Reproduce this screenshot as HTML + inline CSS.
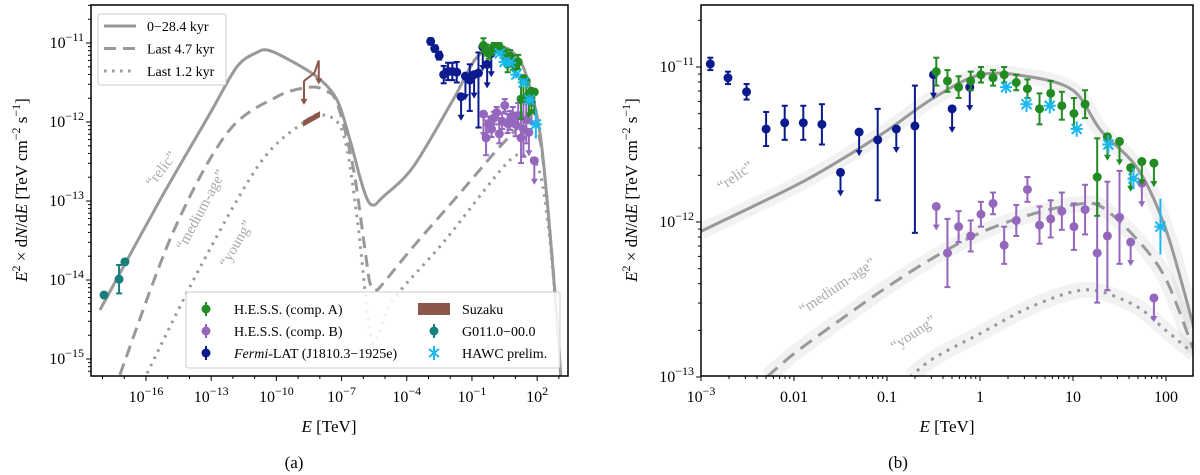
<!DOCTYPE html>
<html><head><meta charset="utf-8"><style>
body{margin:0;background:#fff}
svg{display:block;font-family:"Liberation Serif",serif}
</style></head><body>
<svg id="c" width="1200" height="475" viewBox="0 0 1200 475">
<defs>
<clipPath id="clipL"><rect x="91" y="5" width="477" height="371"/></clipPath>
<clipPath id="clipR"><rect x="701" y="5" width="492" height="371"/></clipPath>
</defs>
<g id="L"></g>
<g id="R"></g>
</svg>
<script>
// ===== data (log10 E [TeV], log10 flux) =====
const relicA_E=[-18.12,-15.36,-13.05,-11.81,-10.9,-10.39,-9.5,-8.13,-7.21,-6.61,-6.1,-5.78,-5.5,-5.1,-3.71,-1.87,-0.77,0.29,1.0,1.53,2.13,2.59,2.96,3.1];
const relicA_F=[-14.38,-12.99,-11.89,-11.3,-11.12,-11.09,-11.2,-11.43,-11.72,-12.23,-12.75,-13.0,-13.05,-12.95,-12.57,-11.72,-11.18,-11.05,-11.15,-11.43,-12.14,-13.4,-14.67,-15.3];
const medA_E=[-17.2,-14.76,-12.27,-9.97,-8.45,-7.8,-7.21,-6.47,-5.92,-5.69,-5.4,-5.23,-3.71,-1.55,0.43,1.53,2.13,2.59,2.96];
const medA_F=[-15.2,-13.4,-12.14,-11.68,-11.56,-11.6,-11.76,-12.57,-13.62,-14.04,-14.1,-14.09,-13.58,-12.9,-12.27,-12.01,-12.23,-13.4,-14.67];
const youngA_E=[-15.95,-13.51,-10.75,-8.77,-7.85,-6.93,-6.29,-5.69,-5.3,-4.63,-2.33,0.61,1.53,2.13,2.59,2.96];
const youngA_F=[-15.18,-13.84,-12.52,-12.01,-11.91,-12.14,-13.2,-14.67,-14.7,-14.25,-13.53,-12.52,-12.44,-12.65,-13.5,-14.7];
const relicB_E=[-3,-2,-1.5,-1,-0.5,0,0.5,1,1.3,1.7,2,2.3];
const relicB_F=[-12.06,-11.77,-11.6,-11.41,-11.2,-11.05,-11.06,-11.15,-11.41,-11.66,-12.05,-12.68];
const medB_E=[-2.29,-2,-1.5,-1,-0.5,0,0.5,1,1.3,1.7,2,2.3];
const medB_F=[-13.0,-12.85,-12.63,-12.42,-12.23,-12.07,-11.96,-11.89,-11.9,-12.12,-12.37,-12.83];
const youngB_E=[-0.75,-0.5,0,0.5,1,1.3,1.7,2,2.3];
const youngB_F=[-13.0,-12.88,-12.72,-12.56,-12.45,-12.45,-12.55,-12.70,-12.85];

const fermiE=[-2.90,-2.71,-2.51,-2.30,-2.10,-1.90,-1.70,-1.50,-1.30,-1.10,-0.90,-0.70,-0.50,-0.30,-0.11];
const fermiF=[-10.98,-11.07,-11.16,-11.40,-11.36,-11.36,-11.37,-11.68,-11.42,-11.47,-11.40,-11.38,-11.05,-11.27,-11.13];
const fermiLo=[0.04,0.04,0.05,0.11,0.11,0.11,0.13,0,0,0.39,0,0.69,0,0,0];
const fermiHi=[0.04,0.04,0.05,0.11,0.11,0.11,0.13,0,0,0.20,0,0.26,0,0,0];
const fermiUL=[0,0,0,0,0,0,0,1,1,0,1,0,1,1,1];
const hessAE=[-0.47,-0.35,-0.23,-0.10,0.01,0.14,0.26,0.39,0.51,0.64,0.76,0.88,1.01,1.13,1.26,1.37,1.50,1.62,1.74,1.87];
const hessAF=[-11.03,-11.09,-11.13,-11.09,-11.05,-11.07,-11.05,-11.10,-11.14,-11.27,-11.17,-11.25,-11.30,-11.24,-11.71,-11.45,-11.48,-11.65,-11.61,-11.62];
const hessAErr=[0.09,0.07,0.07,0.06,0.05,0.05,0.05,0.05,0.06,0.1,0.08,0.09,0.1,0.09,0.25,0,0,0,0,0];
const hessAUL=[0,0,0,0,0,0,0,0,0,0,0,0,0,0,0,1,1,1,1,1];
const hessBE=[-0.47,-0.35,-0.23,-0.10,0.01,0.14,0.26,0.39,0.51,0.64,0.76,0.88,1.01,1.13,1.26,1.37,1.50,1.62,1.74,1.87];
const hessBF=[-11.90,-12.20,-12.03,-12.09,-11.95,-11.88,-12.15,-11.99,-11.79,-12.02,-11.98,-11.93,-12.03,-11.92,-12.20,-12.09,-11.97,-12.13,-11.75,-12.49];
const hessBErr=[0,0.22,0.1,0.1,0.08,0.07,0.12,0.1,0.08,0.12,0.12,0.12,0.15,0.16,0.32,0.35,0.3,0,0,0];
const hessBUL=[1,0,0,0,0,0,0,0,0,0,0,0,0,0,0,0,0,1,1,1];
const hawcE=[0.28,0.50,0.75,1.04,1.38,1.65,1.94];
const hawcF=[-11.13,-11.24,-11.25,-11.40,-11.50,-11.72,-12.03];
const hawcErr=[0.04,0.05,0.05,0.05,0.06,0.07,0.18];
const g011E=[-17.93,-17.24,-16.97];
const g011F=[-14.19,-13.99,-13.77];
const g011Err=[0,0.18,0];
const suzakuE=[-8.77,-7.99];
const suzakuF=[-12.02,-11.90];
const suzakuUlE=[-8.73,-8.25,-8.05];
const suzakuUlF=[-11.48,-11.38,-11.22];

const NS="http://www.w3.org/2000/svg";
function mk(p,t,a,txt){const e=document.createElementNS(NS,t);for(const k in a)e.setAttribute(k,a[k]);if(txt!==undefined)e.textContent=txt;p.appendChild(e);return e;}

const L=document.getElementById('L'),R=document.getElementById('R');
const axL={x:e=>146+(e+16)*21.73,y:f=>43+(-11-f)*79,x0:91,x1:568,y0:5,y1:376};
const axR={x:e=>701+(e+3)*93,y:f=>67+(-11-f)*155,x0:701,x1:1193,y0:5,y1:376};

function path(ax,E,F){return E.map((e,i)=>(i?'L':'M')+ax.x(e).toFixed(1)+','+ax.y(F[i]).toFixed(1)).join(' ');}
function spath(ax,E,F){
  const P=E.map((e,i)=>[ax.x(e),ax.y(F[i])]);
  let d='M'+P[0][0].toFixed(1)+','+P[0][1].toFixed(1);
  for(let i=0;i<P.length-1;i++){
    const p0=P[Math.max(0,i-1)],p1=P[i],p2=P[i+1],p3=P[Math.min(P.length-1,i+2)];
    const t=0.16;
    const c1=[p1[0]+(p2[0]-p0[0])*t,p1[1]+(p2[1]-p0[1])*t];
    const c2=[p2[0]-(p3[0]-p1[0])*t,p2[1]-(p3[1]-p1[1])*t];
    d+=`C${c1[0].toFixed(1)},${c1[1].toFixed(1)} ${c2[0].toFixed(1)},${c2[1].toFixed(1)} ${p2[0].toFixed(1)},${p2[1].toFixed(1)}`;
  }
  return d;
}
function curve(g,ax,E,F,dash,name,band){
  if(band){const b=mk(g,'path',{d:spath(ax,E,F),fill:'none',stroke:'#999','stroke-width':16,'stroke-opacity':0.13,'stroke-linejoin':'round'});
  
  }
  const p=mk(g,'path',{d:spath(ax,E,F),fill:'none',stroke:'#999','stroke-width':3,'stroke-dasharray':dash,'stroke-linejoin':'round'});
  
  
}
function points(g,ax,E,F,lo,hi,UL,col,name,nodot){
  E.forEach((e,i)=>{
    const x=ax.x(e),y=ax.y(F[i]);
    const gg=mk(g,'g',{});
    
    
    if(UL&&UL[i]){
      mk(gg,'line',{x1:x,y1:y,x2:x,y2:y+22,stroke:col,'stroke-width':2});
      mk(gg,'path',{d:`M${x-3.5},${y+18}L${x},${y+24}L${x+3.5},${y+18}Z`,fill:col});
    }else if(lo[i]>0||hi[i]>0){
      const ya=ax.y(F[i]-lo[i]),yb=ax.y(F[i]+hi[i]);
      mk(gg,'line',{x1:x,y1:ya,x2:x,y2:yb,stroke:col,'stroke-width':2});
      mk(gg,'line',{x1:x-3,y1:ya,x2:x+3,y2:ya,stroke:col,'stroke-width':2});
      mk(gg,'line',{x1:x-3,y1:yb,x2:x+3,y2:yb,stroke:col,'stroke-width':2});
    }
    if(!nodot)mk(gg,'circle',{cx:x,cy:y,r:4.5,fill:col});
  });
}
function crosses(g,ax,E,F,err,col,name){
  E.forEach((e,i)=>{
    const x=ax.x(e),y=ax.y(F[i]);
    const gg=mk(g,'g',{stroke:col,'stroke-width':2});
    
    
    mk(gg,'line',{x1:x,y1:ax.y(F[i]-err[i]),x2:x,y2:ax.y(F[i]+err[i])});
    mk(gg,'line',{x1:x-5,y1:y-5,x2:x+5,y2:y+5});
    mk(gg,'line',{x1:x-5,y1:y+5,x2:x+5,y2:y-5});
    mk(gg,'line',{x1:x-6,y1:y,x2:x+6,y2:y});
  });
}
function frame(g,ax){
  const r=mk(g,'rect',{x:ax.x0,y:ax.y0,width:ax.x1-ax.x0,height:ax.y1-ax.y0,fill:'none',stroke:'#000','stroke-width':1.5});
  
  
}
function ylab(g,x){
  const t=mk(g,'text',{x:0,y:0,transform:`translate(${x},190) rotate(-90)`,'text-anchor':'middle','font-size':17});
  
  
  t.innerHTML='<tspan font-style="italic">E</tspan><tspan dy="-7" font-size="12">2</tspan><tspan dy="7"> × d</tspan><tspan font-style="italic">N</tspan>/d<tspan font-style="italic">E</tspan> [TeV cm<tspan dy="-7" font-size="12">−2</tspan><tspan dy="7"> s</tspan><tspan dy="-7" font-size="12">−1</tspan><tspan dy="7">]</tspan>';
}
function xlab(g,x){
  const t=mk(g,'text',{x:x,y:432,'text-anchor':'middle','font-size':17});
  
  
  t.innerHTML='<tspan font-style="italic">E</tspan> [TeV]';
}
function powLabel(g,x,y,exp,anchor,name){
  const t=mk(g,'text',{x:x,y:y,'text-anchor':anchor,'font-size':16});
  
  
  t.innerHTML='10<tspan dy="-7" font-size="12">'+exp+'</tspan>';
}
function note(g,x,y,rot,txt,name){
  const t=mk(g,'text',{x:0,y:0,transform:`translate(${x},${y}) rotate(${rot})`,'text-anchor':'middle','font-size':15,fill:'#aaa'},txt);
  
  
}

// ===== Panel A =====
const tickL=[-16,-13,-10,-7,-4,-1,2];
const tickLy=[-11,-12,-13,-14,-15];
(function(){
  const g=mk(L,'g',{'clip-path':'url(#clipL)'});
  curve(g,axL,relicA_E,relicA_F,'','relic-curve-a',false);
  curve(g,axL,medA_E,medA_F,'12,7','medium-age-curve-a',false);
  curve(g,axL,youngA_E,youngA_F,'2.5,5.5','young-curve-a',false);
  note(g,165,172,-52,'“relic”','relic-annotation-a');
  note(g,205,212,-62,'“medium-age”','medium-age-annotation-a');
  note(g,240,246,-60,'“young”','young-annotation-a');
  const s=mk(g,'path',{d:`M${axL.x(suzakuE[0])},${axL.y(suzakuF[0])-3}L${axL.x(suzakuE[1])},${axL.y(suzakuF[1])-3}L${axL.x(suzakuE[1])},${axL.y(suzakuF[1])+3}L${axL.x(suzakuE[0])},${axL.y(suzakuF[0])+3}Z`,fill:'#8c564b'});
  
  
  const su=mk(g,'path',{d:path(axL,suzakuUlE,suzakuUlF),fill:'none',stroke:'#8c564b','stroke-width':2});
  
  
  points(g,axL,[suzakuUlE[0],suzakuUlE[2]],[suzakuUlF[0],suzakuUlF[2]],[0,0],[0,0],[1,1],'#8c564b','suzaku-limit',true);
  points(g,axL,g011E,g011F,g011Err,g011Err,null,'#17807e','g011');
  points(g,axL,fermiE,fermiF,fermiLo,fermiHi,fermiUL,'#0b1a8c','fermi');
  points(g,axL,hessBE,hessBF,hessBErr,hessBErr,hessBUL,'#9467bd','hess-b');
  points(g,axL,hessAE,hessAF,hessAErr,hessAErr,hessAUL,'#228b22','hess-a');
  crosses(g,axL,hawcE,hawcF,hawcErr,'#1ab8f0','hawc');
  frame(L,axL);
  for(let d=-18;d<=3;d++){const x=axL.x(d);if(x<axL.x0||x>axL.x1)continue;mk(L,'line',{x1:x,y1:376,x2:x,y2:tickL.includes(d)?381:379,stroke:'#000'});}
  tickL.forEach(d=>powLabel(L,axL.x(d),402,d<0?'−'+(-d):''+d,'middle','x-tick-label-a'));
  for(let d=-16;d<=-10;d++)for(let m=1;m<10;m++){const y=axL.y(d+Math.log10(m));if(y<axL.y0||y>axL.y1)continue;mk(L,'line',{x1:91,y1:y,x2:m==1?86:88,y2:y,stroke:'#000'});}
  tickLy.forEach(d=>powLabel(L,84,axL.y(d)+5,'−'+(-d),'end','y-tick-label-a'));
  ylab(L,27);xlab(L,329);
  const pl=mk(L,'text',{x:294,y:468,'text-anchor':'middle','font-size':17},'(a)');
  
  
  const lg=mk(L,'g',{});
  
  
  mk(lg,'rect',{x:98,y:14,width:128,height:71,fill:'#fff',stroke:'#ccc',rx:2});
  [['','0−28.4 kyr'],['12,7','Last 4.7 kyr'],['2.5,5.5','Last 1.2 kyr']].forEach((l,i)=>{
    const y=26+i*22.5;
    mk(lg,'line',{x1:104,y1:y,x2:136,y2:y,stroke:'#999','stroke-width':3,'stroke-dasharray':l[0]});
    mk(lg,'text',{x:147,y:y+5,'font-size':14},l[1]);
  });
  const lb=mk(L,'g',{});
  
  
  mk(lb,'rect',{x:186,y:292,width:374,height:76,fill:'#fff','fill-opacity':0.85,stroke:'#ccc',rx:2});
  const items=[[206,309,'#228b22','H.E.S.S. (comp. A)','pt'],[206,331,'#9467bd','H.E.S.S. (comp. B)','pt'],[206,353,'#0b1a8c','Fermi-LAT (J1810.3−1925e)','pt'],[434,309,'#8c564b','Suzaku','box'],[434,331,'#17807e','G011.0−00.0','pt'],[434,353,'#1ab8f0','HAWC prelim.','x']];
  items.forEach(it=>{
    const [x,y,c,t,k]=it;
    if(k=='pt'){mk(lb,'line',{x1:x,y1:y-7,x2:x,y2:y+7,stroke:c,'stroke-width':2});mk(lb,'circle',{cx:x,cy:y,r:4.5,fill:c});}
    else if(k=='box'){mk(lb,'rect',{x:x-16,y:y-6,width:32,height:12,fill:c});}
    else{mk(lb,'line',{x1:x,y1:y-7,x2:x,y2:y+7,stroke:c,'stroke-width':2});mk(lb,'line',{x1:x-5,y1:y-4,x2:x+5,y2:y+4,stroke:c,'stroke-width':2});mk(lb,'line',{x1:x-5,y1:y+4,x2:x+5,y2:y-4,stroke:c,'stroke-width':2});}
    const tx=mk(lb,'text',{x:x+28,y:y+5,'font-size':14});
    if(t.startsWith('Fermi'))tx.innerHTML='<tspan font-style="italic">Fermi</tspan>-LAT (J1810.3−1925e)';else tx.textContent=t;
  });
})();

// ===== Panel B =====
const tickRx=[-3,-2,-1,0,1,2];
const tickRxLab=['10^−3','0.01','0.1','1','10','100'];
const tickRy=[-11,-12,-13];
(function(){
  const g=mk(R,'g',{'clip-path':'url(#clipR)'});
  curve(g,axR,relicB_E,relicB_F,'','relic-curve-b',true);
  curve(g,axR,medB_E,medB_F,'14,8','medium-age-curve-b',true);
  curve(g,axR,youngB_E,youngB_F,'3,6','young-curve-b',true);
  note(g,738,180,-35,'“relic”','relic-annotation-b');
  note(g,840,290,-34,'“medium-age”','medium-age-annotation-b');
  note(g,916,337,-34,'“young”','young-annotation-b');
  points(g,axR,fermiE,fermiF,fermiLo,fermiHi,fermiUL,'#0b1a8c','fermi');
  points(g,axR,hessBE,hessBF,hessBErr,hessBErr,hessBUL,'#9467bd','hess-b');
  points(g,axR,hessAE,hessAF,hessAErr,hessAErr,hessAUL,'#228b22','hess-a');
  crosses(g,axR,hawcE,hawcF,hawcErr,'#1ab8f0','hawc');
  frame(R,axR);
  for(let d=-3;d<=2;d++)for(let m=1;m<10;m++){const x=axR.x(d+Math.log10(m));if(x>axR.x1)continue;mk(R,'line',{x1:x,y1:376,x2:x,y2:m==1?381:379,stroke:'#000'});}
  tickRx.forEach((d,i)=>{
    if(d==-3)powLabel(R,axR.x(d),402,'−3','middle','x-tick-label-b');
    else{const t=mk(R,'text',{x:axR.x(d),y:402,'text-anchor':'middle','font-size':16},tickRxLab[i]);}
  });
  for(let d=-13;d<=-11;d++)for(let m=1;m<10;m++){const y=axR.y(d+Math.log10(m));if(y<axR.y0)continue;mk(R,'line',{x1:701,y1:y,x2:m==1?696:698,y2:y,stroke:'#000'});}
  tickRy.forEach(d=>powLabel(R,694,axR.y(d)+5,'−'+(-d),'end','y-tick-label-b'));
  ylab(R,637);xlab(R,947);
  const pl=mk(R,'text',{x:898,y:468,'text-anchor':'middle','font-size':17},'(b)');
  
  
})();
</script>
</body></html>
